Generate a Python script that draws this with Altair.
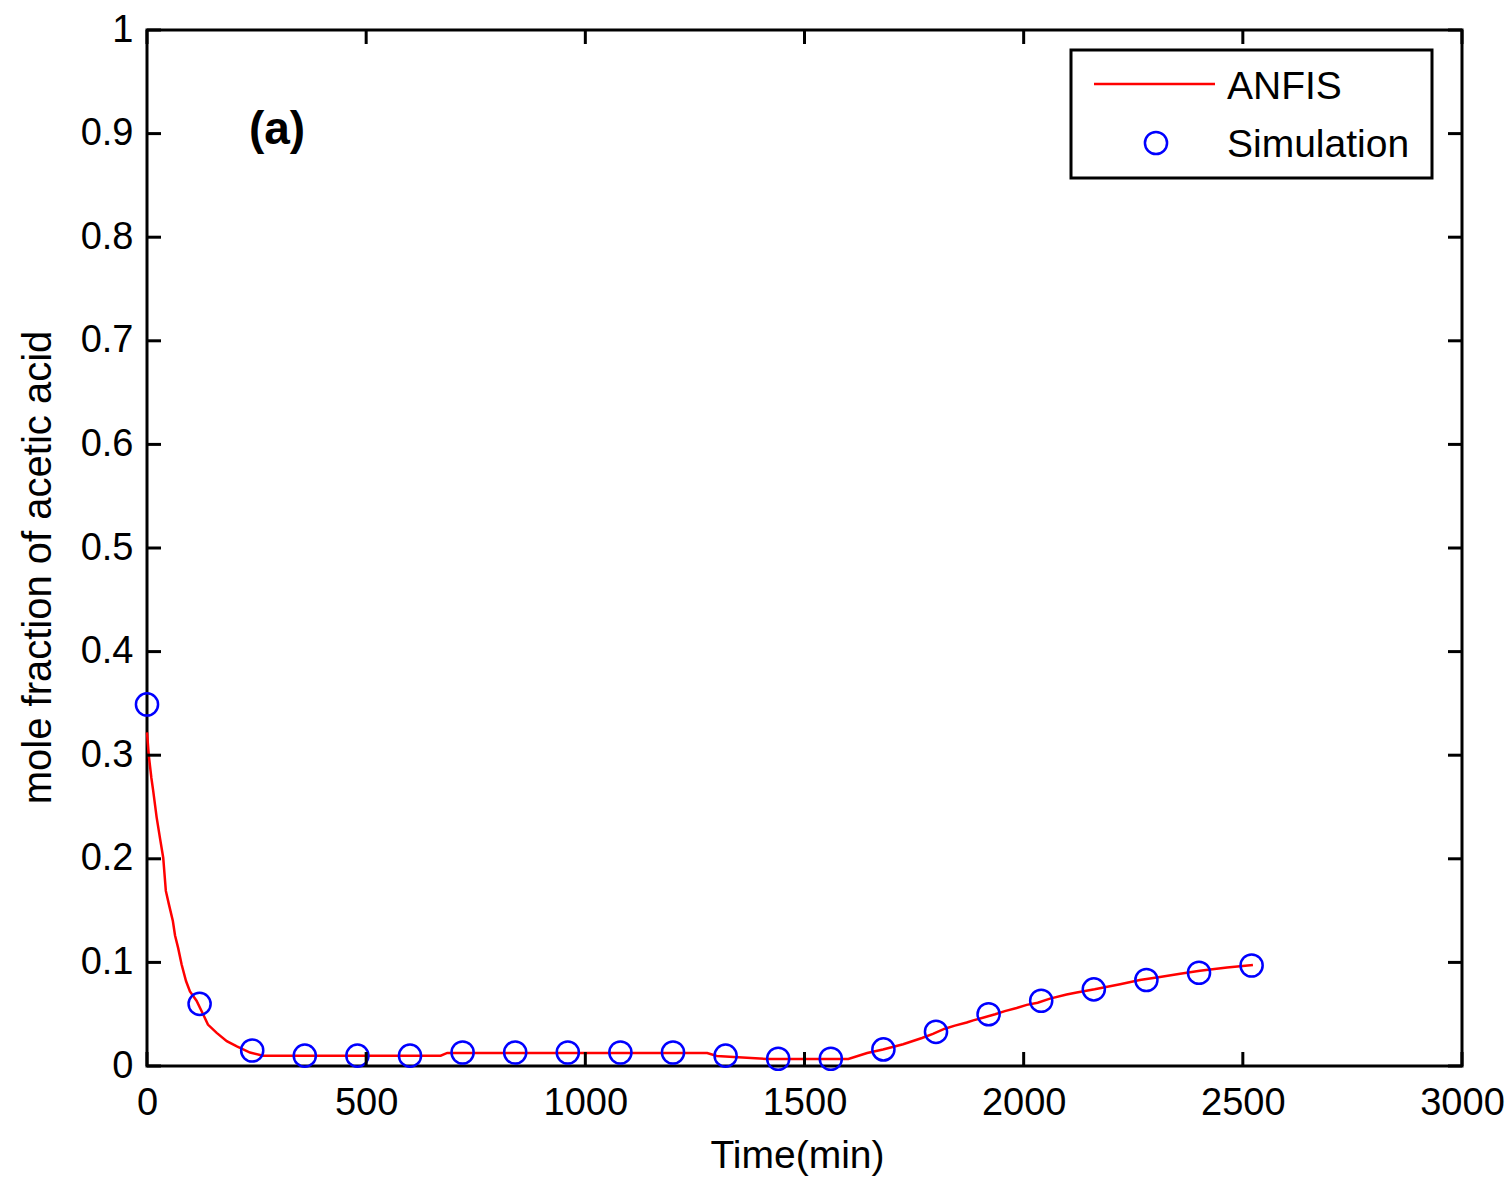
import altair as alt
import pandas as pd

# ---- data ----
sim_time = [0, 120, 240, 360, 480, 600, 720, 840, 960, 1080, 1200, 1320,
            1440, 1560, 1680, 1800, 1920, 2040, 2160, 2280, 2400, 2520]
sim_value = [0.349, 0.060, 0.015, 0.010, 0.010, 0.010, 0.013, 0.013, 0.013,
             0.013, 0.013, 0.010, 0.007, 0.007, 0.016, 0.033, 0.050, 0.063,
             0.074, 0.083, 0.090, 0.097]

anfis_time = [0, 4, 10, 14, 22, 30, 37, 43, 50, 59, 64, 71, 79, 89, 98, 113,
              128, 139, 159, 182, 205, 235, 265, 670, 685, 1278, 1300, 1415,
              1600, 1643, 1679, 1725, 1768, 1793, 1820, 1843, 1870, 1885,
              1911, 1935, 1957, 1984, 2007, 2032, 2060, 2098, 2121, 2162,
              2220, 2265, 2311, 2357, 2402, 2464, 2523]
anfis_value = [0.322, 0.300, 0.278, 0.266, 0.240, 0.219, 0.201, 0.169, 0.156,
               0.140, 0.126, 0.114, 0.098, 0.082, 0.072, 0.063, 0.050, 0.040,
               0.032, 0.024, 0.019, 0.013, 0.010, 0.010, 0.0126, 0.0126,
               0.0097, 0.0068, 0.0068, 0.0126, 0.016, 0.021, 0.027, 0.031,
               0.036, 0.039, 0.042, 0.044, 0.047, 0.050, 0.053, 0.056, 0.059,
               0.061, 0.065, 0.069, 0.071, 0.074, 0.079, 0.083, 0.086, 0.089,
               0.092, 0.095, 0.0976]

x_ticks = [0, 500, 1000, 1500, 2000, 2500, 3000]
y_ticks = [0, 0.1, 0.2, 0.3, 0.4, 0.5, 0.6, 0.7, 0.8, 0.9, 1]
legend_labels = ["ANFIS", "Simulation"]
panel_label = "(a)"
x_title = "Time(min)"
y_title = "mole fraction of acetic acid"

# ---- layout ----
W, H = 1315, 1036
FONT = "Liberation Sans"
TICK = 14

sim_df = pd.DataFrame({"time": sim_time, "value": sim_value})
anfis_df = pd.DataFrame({"time": anfis_time, "value": anfis_value})
xt_df = pd.DataFrame({"time": x_ticks})
yt_df = pd.DataFrame({"value": y_ticks})
one = pd.DataFrame({"k": [0]})

xscale = alt.Scale(domain=[0, 3000], nice=False, zero=False)
yscale = alt.Scale(domain=[0, 1], nice=False, zero=False)

x_axis = alt.Axis(values=x_ticks, format="d", title=x_title, grid=False,
                  domain=False, ticks=False, labelFontSize=38, labelFont=FONT,
                  labelColor="black", labelPadding=18, labelFlush=False,
                  titleFont=FONT, titleFontSize=39, titleFontWeight="normal",
                  titleColor="black", titleX=650, titleY=101,
                  titleBaseline="alphabetic")
y_axis = alt.Axis(values=y_ticks, format="~g", title=y_title, grid=False,
                  domain=False, ticks=False, labelFontSize=38, labelFont=FONT,
                  labelColor="black", labelPadding=14, labelFlush=False,
                  titleFont=FONT, titleFontSize=40, titleFontWeight="normal",
                  titleColor="black", titleX=-97, titleY=537,
                  titleBaseline="alphabetic", titleAngle=-90)

X = alt.X("time:Q", scale=xscale, axis=x_axis)
Y = alt.Y("value:Q", scale=yscale, axis=y_axis)

line = alt.Chart(anfis_df).mark_line(color="#FF0000", strokeWidth=2.5).encode(x=X, y=Y)
points = alt.Chart(sim_df).mark_point(
    shape="circle", size=490, filled=False, color="#0000FF", strokeWidth=2.5,
    opacity=1
).encode(x=X, y=Y)

xt_bottom = alt.Chart(xt_df).mark_rule(color="black", strokeWidth=3).encode(
    x=X, y=alt.value(H), y2=alt.value(H - TICK))
xt_top = alt.Chart(xt_df).mark_rule(color="black", strokeWidth=3).encode(
    x=X, y=alt.value(0), y2=alt.value(TICK))
yt_left = alt.Chart(yt_df).mark_rule(color="black", strokeWidth=3).encode(
    y=Y, x=alt.value(0), x2=alt.value(TICK))
yt_right = alt.Chart(yt_df).mark_rule(color="black", strokeWidth=3).encode(
    y=Y, x=alt.value(W), x2=alt.value(W - TICK))

label_a = alt.Chart(one).mark_text(
    text=panel_label, font=FONT, fontSize=46, fontWeight="bold", color="black",
    align="center", baseline="middle"
).encode(x=alt.value(130), y=alt.value(100))

leg_box = alt.Chart(one).mark_rect(fill="white", stroke="black", strokeWidth=3).encode(
    x=alt.value(924), x2=alt.value(1285), y=alt.value(20), y2=alt.value(148))
leg_line = alt.Chart(one).mark_rule(color="#FF0000", strokeWidth=2.5).encode(
    x=alt.value(947), x2=alt.value(1068), y=alt.value(54))
leg_pt = alt.Chart(one).mark_point(
    shape="circle", size=490, filled=False, color="#0000FF", strokeWidth=2.5,
    opacity=1
).encode(x=alt.value(1009), y=alt.value(113))
leg_t1 = alt.Chart(one).mark_text(
    text=legend_labels[0], font=FONT, fontSize=39, color="black",
    align="left", baseline="middle").encode(x=alt.value(1080), y=alt.value(57))
leg_t2 = alt.Chart(one).mark_text(
    text=legend_labels[1], font=FONT, fontSize=39, color="black",
    align="left", baseline="middle").encode(x=alt.value(1080), y=alt.value(115))

chart = alt.layer(
    line, points, xt_bottom, xt_top, yt_left, yt_right, label_a,
    leg_box, leg_line, leg_pt, leg_t1, leg_t2
).properties(
    width=W, height=H,
    padding={"left": 147, "top": 30, "right": 45, "bottom": 112},
    autosize=alt.AutoSizeParams(type="none"),
    background="white",
).configure_view(stroke="black", strokeWidth=3)

chart.save("out.html", embed_options={"renderer": "svg", "actions": False})
